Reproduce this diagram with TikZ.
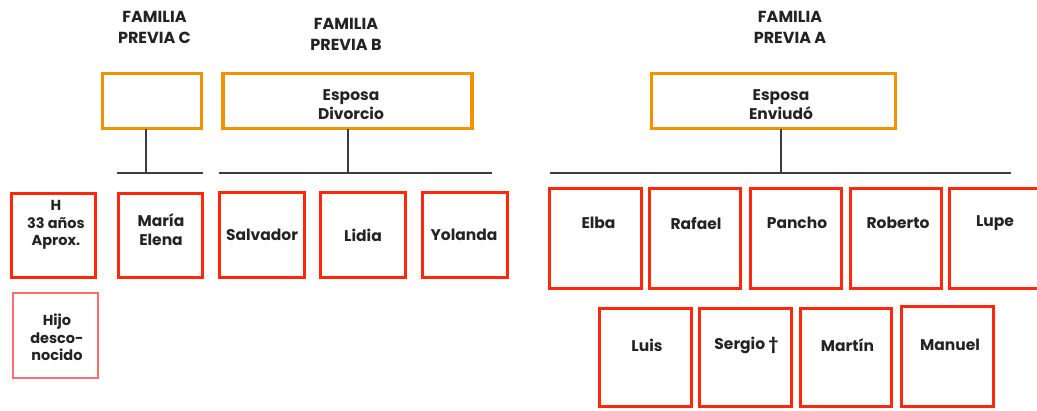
\documentclass[tikz,border=0pt]{standalone}
\usepackage{fontspec}
\setmainfont{Poppins}
\definecolor{orangeb}{RGB}{242,146,0}
\definecolor{redb}{RGB}{255,40,10}
\definecolor{pinkb}{RGB}{250,110,110}
\definecolor{linec}{RGB}{60,60,60}
\definecolor{txt}{RGB}{35,35,35}
\tikzset{
  obox/.style={draw=orangeb, line width=3.5pt, inner sep=0pt, outer sep=0pt},
  rbox/.style={draw=redb, line width=3pt, inner sep=0pt, outer sep=0pt},
  pbox/.style={draw=pinkb, line width=2pt, inner sep=0pt, outer sep=0pt},
  lbl/.style={text=txt, align=center, inner sep=0pt, font=\bfseries\fontsize{15.5}{19}\selectfont},
  slbl/.style={text=txt, align=center, inner sep=0pt, font=\bfseries\fontsize{14.5}{17.5}\selectfont},
  head/.style={text=txt, align=center, inner sep=0pt, font=\bfseries\fontsize{16}{21}\selectfont},
  bus/.style={draw=linec, line width=1.5pt},
}
\begin{document}
\begin{tikzpicture}[x=1pt,y=-1pt]
\useasboundingbox (0,0) rectangle (1037,410);
\clip (0,0) rectangle (1037,410);
% headings
\node[head] (hC) at (154.5,27.5) {FAMILIA\\PREVIA C};
\node[head] (hB) at (346,34.5) {FAMILIA\\PREVIA B};
\node[head] (hA) at (790,27.5) {FAMILIA\\PREVIA A};
% parent boxes
\node[obox, minimum width=99pt, minimum height=55pt] (oC) at (152,101) {};
\node[obox, minimum width=249pt, minimum height=55pt] (oB) at (347.5,101) {};
\node[obox, minimum width=244pt, minimum height=55pt] (oA) at (773.5,101) {};
\node[lbl] (tB) at (351,105) {Esposa\\Divorcio};
\node[lbl] (tA) at (781,105) {Esposa\\Enviudó};
% buses
\coordinate (jC) at (146,173);
\coordinate (jB) at (348,173);
\coordinate (jA) at (781,173);
\coordinate (bCl) at (117,173); \coordinate (bCr) at (203,173);
\coordinate (bBl) at (219,173); \coordinate (bBr) at (492,173);
\coordinate (bAl) at (550,173); \coordinate (bAr) at (1011,173);
\draw[bus] (jC |- oC.south) -- (jC);
\draw[bus] (jB |- oB.south) -- (jB);
\draw[bus] (jA |- oA.south) -- (jA);
\draw[bus] (bCl) -- (bCr);
\draw[bus] (bBl) -- (bBr);
\draw[bus] (bAl) -- (bAr);
% left children
\node[rbox, minimum width=84pt, minimum height=84pt] (bH) at (53.5,235.5) {};
\node[pbox, minimum width=85pt, minimum height=85pt] (bHijo) at (55,335.5) {};
\node[rbox, minimum width=84pt, minimum height=84pt] (bMaria) at (160.5,235.5) {};
\node[rbox, minimum width=85pt, minimum height=85pt] (bSalv) at (262,235) {};
\node[rbox, minimum width=85pt, minimum height=85pt] (bLidia) at (363,235) {};
\node[rbox, minimum width=85pt, minimum height=85pt] (bYol) at (465,235) {};
\node[slbl] (tH) at (56,225) {H\\33 años\\Aprox.};
\node[slbl] (tHijo) at (57,337.5) {Hijo\\desco-\\nocido};
\node[lbl] (tMaria) at (161,230) {María\\Elena};
\node[lbl] (tSalv) at (262,235) {Salvador};
\node[lbl] (tLidia) at (363,235) {Lidia};
\node[lbl] (tYol) at (464,235) {Yolanda};
% right children row 1
\node[rbox, minimum width=92pt, minimum height=100pt] (bElba) at (595.5,238.5) {};
\node[rbox, minimum width=91pt, minimum height=100pt] (bRaf) at (695,238.5) {};
\node[rbox, minimum width=91pt, minimum height=100pt] (bPan) at (796,238.5) {};
\node[rbox, minimum width=91pt, minimum height=100pt] (bRob) at (896,238.5) {};
\node[rbox, minimum width=92pt, minimum height=100pt] (bLupe) at (995.5,238.5) {};
\node[lbl] (tElba) at (598.5,223) {Elba};
\node[lbl] (tRaf) at (696,223) {Rafael};
\node[lbl] (tPan) at (797,223) {Pancho};
\node[lbl] (tRob) at (898,223) {Roberto};
\node[lbl] (tLupe) at (995,223) {Lupe};
% right children row 2
\node[rbox, minimum width=92pt, minimum height=98pt] (bLuis) at (645.5,357.5) {};
\node[rbox, minimum width=92pt, minimum height=98pt] (bSerg) at (745.5,357.5) {};
\node[rbox, minimum width=91pt, minimum height=98pt] (bMart) at (846,357.5) {};
\node[rbox, minimum width=92pt, minimum height=100pt] (bMan) at (947.5,356.5) {};
\node[lbl] (tLuis) at (647,345) {Luis};
\node[lbl] (tSerg) at (746.5,345) {Sergio †};
\node[lbl] (tMart) at (847.5,345) {Martín};
\node[lbl] (tMan) at (950,345) {Manuel};
\end{tikzpicture}
\end{document}
